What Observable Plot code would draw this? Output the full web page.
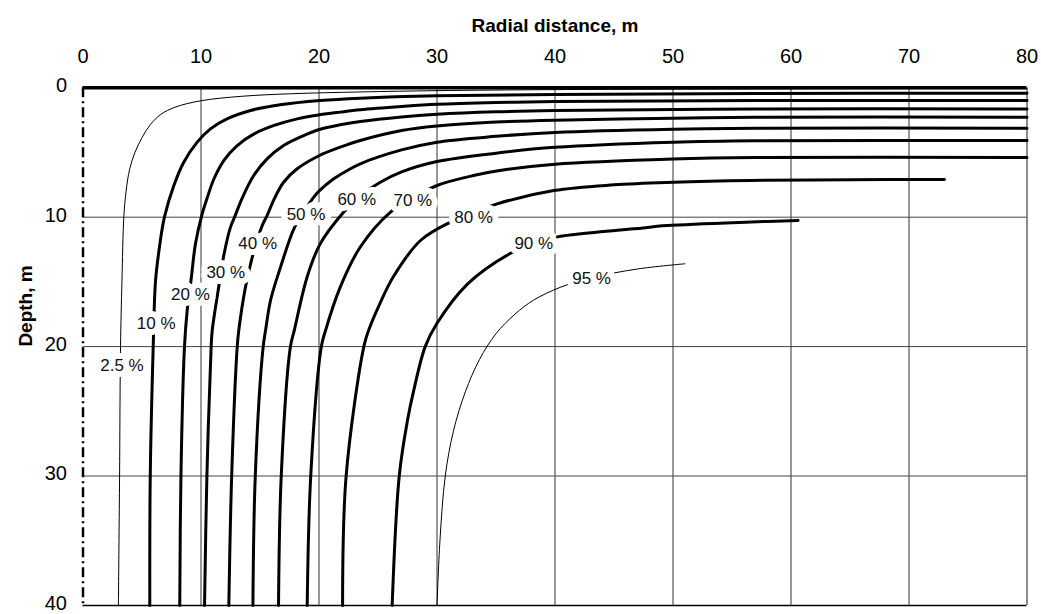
<!DOCTYPE html>
<html><head><meta charset="utf-8">
<script src="https://cdn.jsdelivr.net/npm/d3@7"></script>
<script src="https://cdn.jsdelivr.net/npm/@observablehq/plot@0.6"></script>
<style>body{margin:0;background:#fff}</style>
</head><body><div id="chart"></div>
<script>
// Tick values
const xTicks = [0, 10, 20, 30, 40, 50, 60, 70, 80];
const yTicks = [0, 10, 20, 30, 40];
const xGrid = [10, 20, 30, 40, 50, 60, 70];
const yGrid = [10, 20, 30];

// Contour curves: [radial distance (m), depth (m)]
const c2_5 = [[3.0,40],[3.05,35],[3.1,30],[3.18,20],[3.3,15],[3.46,10],[3.65,8],[3.95,6.3],[4.4,5.0],[5.0,3.85],[5.7,2.85],[6.6,2.05],[7.8,1.5],[10.0,1.0],[13.4,0.66],[17.6,0.46],[23.5,0.32],[30,0.22],[40,0.14],[60,0.08],[80,0.06]];
const c10 = [[5.66,40],[5.7,30],[5.95,20],[6.14,15],[6.45,12.5],[6.9,10],[7.7,7.55],[8.54,5.75],[9.68,4.2],[10.8,3.17],[12.2,2.4],[14.2,1.75],[16.7,1.31],[20.1,0.98],[23.5,0.8],[30,0.62],[40,0.52],[57,0.44],[80,0.42]];
const c20 = [[8.2,40],[8.3,30],[8.6,20],[8.83,17.2],[9.17,14.76],[9.53,12.06],[10.1,9.74],[10.5,8.58],[11.1,7.03],[11.93,5.62],[13.07,4.46],[14.5,3.56],[16.2,2.91],[18.15,2.4],[20.04,2.09],[21.8,1.88],[23.5,1.7],[27,1.45],[30,1.28],[35,1.14],[40,1.06],[57,0.99],[80,0.98]];
const c30 = [[10.3,40],[10.5,30],[10.86,20],[10.95,18.76],[11.5,15.4],[11.93,12.96],[12.5,10.77],[12.9,9.87],[13.5,8.5],[14.47,6.78],[15.6,5.49],[17.0,4.46],[18.7,3.69],[20.04,3.22],[21.8,2.86],[23.5,2.6],[27,2.25],[30,2.05],[35,1.86],[40,1.76],[57,1.64],[80,1.63]];
const c40 = [[12.36,40],[12.6,30],[13.07,20],[13.2,18.76],[13.77,15.4],[14.34,13.1],[15.19,10.64],[15.6,9.87],[16.2,8.6],[17.0,7.3],[18.15,6.26],[20.04,5.23],[21.8,4.59],[23.5,4.07],[27,3.3],[30,2.95],[35,2.65],[40,2.5],[50,2.35],[57,2.28],[80,2.27]];
const c50 = [[14.4,40],[14.6,30],[15.27,20],[15.47,18.76],[15.9,16.4],[16.74,13.86],[17.87,10.9],[18.7,9.6],[19.56,8.45],[20.04,7.95],[21.25,7.03],[22.4,6.39],[23.5,5.87],[27,4.8],[30,4.2],[35,3.75],[40,3.45],[50,3.2],[57,3.13],[80,3.12]];
const c60 = [[16.57,40],[16.8,30],[17.58,20],[17.9,18.76],[19.0,14.6],[20.1,12.06],[21.97,9.74],[23.3,8.5],[25.2,7.3],[27,6.5],[30,5.7],[35,5.05],[40,4.6],[50,4.2],[57,4.09],[80,4.08]];
const c70 = [[19.0,40],[19.3,30],[20.2,20],[20.55,18.76],[21.8,15.4],[23.5,12.3],[26.06,9.6],[28,8.5],[30,7.55],[33,6.8],[36,6.3],[40,5.9],[50,5.5],[57,5.38],[80,5.38]];
const c80 = [[22.0,40],[22.3,30],[23.8,20],[24.2,18.76],[25.2,16.6],[26.3,14.6],[28.6,11.8],[31.1,10.4],[33.1,9.65],[35.1,8.97],[39.9,7.94],[45,7.5],[50,7.3],[56.6,7.16],[65,7.1],[73,7.08]];
const c90 = [[26.2,40],[26.8,30],[27.5,25.7],[28.0,23.5],[29.0,20],[30.0,18.2],[32.6,15.15],[36.2,12.8],[38.2,12.0],[40.3,11.5],[46.7,10.9],[49.5,10.65],[56.6,10.37],[60.6,10.26]];
const c95 = [[30.0,40],[30.25,35],[30.7,30],[31.4,26.5],[32.4,23.5],[33.6,21],[35.0,19],[36.6,17.5],[38.2,16.4],[40.5,15.4],[43,14.7],[47,14.0],[51,13.6]];

// Contour labels
const labelText = ["2.5 %","10 %","20 %","30 %","40 %","50 %","60 %","70 %","80 %","90 %","95 %"];
const labelX = [3.3, 6.2, 9.1, 12.1, 14.8, 18.9, 23.2, 27.95, 33.1, 38.2, 43.1];
const labelY = [21.5, 18.2, 16.0, 14.25, 12.0, 9.8, 8.6, 8.75, 10.0, 12.06, 14.77];

const thinCurves = {"2.5": c2_5, "95": c95};
const thickCurves = {"10": c10, "20": c20, "30": c30, "40": c40, "50": c50, "60": c60, "70": c70, "80": c80, "90": c90};
const toRows = obj => Object.entries(obj).flatMap(([pct, pts]) => pts.map(([x, y]) => ({pct, x, y})));
const thinRows = toRows(thinCurves);
const thickRows = toRows(thickCurves);
const labels = labelText.map((t, i) => ({t, x: labelX[i], y: labelY[i]}));

const chart = Plot.plot({
  width: 1041, height: 614,
  marginLeft: 82.5, marginRight: 14.5, marginTop: 87.3, marginBottom: 9.1,
  style: {fontFamily: "'Liberation Sans', Arial, sans-serif", fontSize: "20px", background: "#fff", color: "#000"},
  x: {domain: [0, 80]},
  y: {domain: [0, 40], reverse: true},
  marks: [
    Plot.ruleX(xGrid, {stroke: "#333", strokeWidth: 1}),
    Plot.ruleY(yGrid, {stroke: "#444", strokeWidth: 1}),
    Plot.ruleX([80], {stroke: "#666", strokeWidth: 1.5}),
    Plot.ruleY([40], {stroke: "#000", strokeWidth: 1.5}),
    Plot.ruleX([0], {stroke: "#000", strokeWidth: 2.5, strokeDasharray: "10,4,2,4"}),
    Plot.line(thinRows, {x: "x", y: "y", z: "pct", curve: "catmull-rom", stroke: "#000", strokeWidth: 1}),
    Plot.line(thickRows, {x: "x", y: "y", z: "pct", curve: "catmull-rom", stroke: "#000", strokeWidth: 3}),
    Plot.ruleY([0], {stroke: "#000", strokeWidth: 3.5}),
    Plot.text(labels, {x: "x", y: "y", text: "t", fontSize: 17, fill: "#111", stroke: "#fff", strokeWidth: 12, strokeLinejoin: "round", paintOrder: "stroke"}),
    Plot.axisX(xTicks, {anchor: "top", tickSize: 0, tickPadding: 25, label: null}),
    Plot.axisY(yTicks, {anchor: "left", tickSize: 0, tickPadding: 16, dy: -2, label: null}),
    Plot.text(["Radial distance, m"], {frameAnchor: "top", dy: -69, fontWeight: "bold", fontSize: 19}),
    Plot.text(["Depth, m"], {frameAnchor: "left", dx: -57, rotate: -90, fontWeight: "bold", fontSize: 19})
  ]
});
document.getElementById("chart").appendChild(chart);
</script>
</body></html>
